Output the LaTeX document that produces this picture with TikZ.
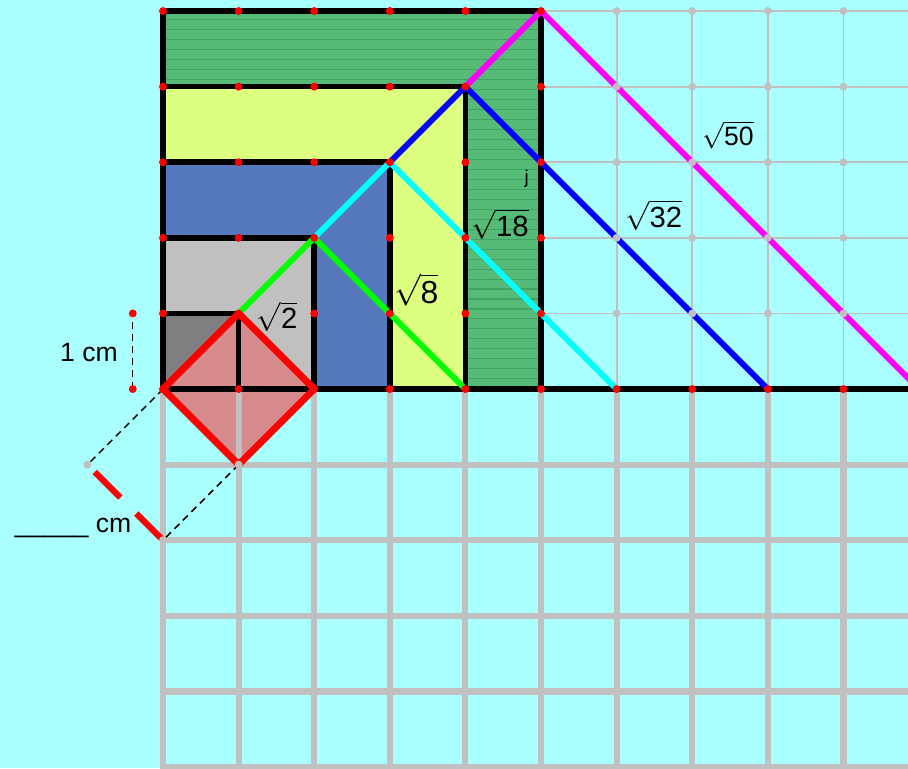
\documentclass[tikz,border=0pt]{standalone}
\usepackage{amsmath}
\usepackage{fontspec}
\setmainfont{Liberation Sans}
\usetikzlibrary{patterns.meta}
\definecolor{sky}{HTML}{AAFFFF}
\definecolor{gridgray}{HTML}{C0C0C0}
\definecolor{sqgreen}{HTML}{55BB77}
\definecolor{hatch}{HTML}{3FA462}
\definecolor{sqyellow}{HTML}{DDFF80}
\definecolor{sqblue}{HTML}{5577BB}
\definecolor{sqgray}{HTML}{C0C0C0}
\definecolor{sqdark}{HTML}{808080}
\definecolor{rosefill}{HTML}{D68C8C}
\definecolor{ptred}{HTML}{FF0000}
\definecolor{diaggreen}{HTML}{00FF00}
\definecolor{diagcyan}{HTML}{00FFFF}
\definecolor{diagblue}{HTML}{0000FF}
\definecolor{diagmagenta}{HTML}{FF00FF}
\tikzset{
  finegrid/.style={draw=gridgray,line width=0.7pt},
  coarsegrid/.style={draw=gridgray,line width=2.3pt},
  edge/.style={draw=black,line width=2.1pt,line cap=rect},
  diag/.style={line width=2.2pt},
  dot/.style={circle,fill=ptred,inner sep=0pt,minimum size=3pt},
  greydot/.style={circle,fill=gridgray,inner sep=0pt,minimum size=3pt},
  measure/.style={draw=black,line width=0.55pt,dash pattern=on 2.6pt off 1.9pt},
  lbl/.style={font=\fontsize{11}{13}\selectfont,inner sep=0pt},
  small/.style={font=\fontsize{10}{12}\selectfont,inner sep=0pt}
}
\begin{document}
\begin{tikzpicture}[line join=round]
  \fill[sky] (-2.156,-5.013) rectangle (9.854,5.146);
  \useasboundingbox (-2.156,-5.013) rectangle (9.854,5.146);
  \clip (-2.156,-5.013) rectangle (9.854,5.146);
  % key points
  \coordinate (o) at (0,0);
  \foreach \k in {1,...,5} \coordinate (p\k) at (\k,\k);
  \foreach \k in {4,6,8,10} \coordinate (q\k) at (\k,0);
  \coordinate (dr) at (2,0);
  \coordinate (db) at (1,-1);
  \coordinate (m1) at (-1,-1);
  \coordinate (m2) at (0,-2);
  \coordinate (u0) at (-0.4,0);
  \coordinate (u1) at (-0.4,1);
  % fine grid right of the squares
  \foreach \x in {6,...,9} \draw[finegrid] (\x,0) -- (\x,5);
  \foreach \y in {1,...,5} \draw[finegrid] (5,\y) -- (10,\y);
  % nested squares
  \fill[sqgreen] (0,0) rectangle (5,5);
  \fill[pattern={Lines[angle=0,distance=0.132cm,line width=0.4pt]},pattern color=hatch]
    (0,4) -- (4,4) -- (4,0) -- (5,0) -- (5,5) -- (0,5) -- cycle;
  \fill[sqyellow] (0,0) rectangle (4,4);
  \fill[sqblue] (0,0) rectangle (3,3);
  \fill[sqgray] (0,0) rectangle (2,2);
  \fill[sqdark] (0,0) rectangle (1,1);
  \fill[rosefill] (o) -- (p1) -- (dr) -- (db) -- cycle;
  % coarse grid below
  \foreach \x in {0,...,9} \draw[coarsegrid] (\x,0) -- (\x,-5.2);
  \foreach \y in {1,...,5} \draw[coarsegrid] (0,-\y) -- (10,-\y);
  % square outlines
  \foreach \k in {1,...,5} \draw[edge] (\k,0) -- (p\k) -- (0,\k);
  \draw[edge] (0,5) -- (o) -- (10,0);
  % diagonals
  \draw[diag,draw=diaggreen] (p1) -- (p2) -- (q4);
  \draw[diag,draw=diagcyan] (p2) -- (p3) -- (q6);
  \draw[diag,draw=diagblue] (p3) -- (p4) -- (q8);
  \draw[diag,draw=diagmagenta] (p4) -- (p5) -- (q10);
  \draw[diag,draw=ptred,line width=2.6pt] (o) -- (p1) -- (dr) -- (db) -- cycle;
  % measuring
  \draw[measure] (o) -- (m1);
  \draw[measure] (db) -- (m2);
  \draw[measure] (u0) -- (u1);
  \draw[draw=ptred,line width=2.3pt,shorten <=0.136cm,dash pattern=on 0.48cm off 0.3cm] (m1) -- (m2);
  % dots
  \foreach \i in {0,...,5} \foreach \j in {0,...,5} \node[dot] (d\i\j) at (\i,\j) {};
  \foreach \i in {6,...,9} \node[dot] (d\i0) at (\i,0) {};
  \foreach \i in {6,...,9} \foreach \j in {1,...,5} \node[greydot] (g\i\j) at (\i,\j) {};
  \node[greydot] (gdb) at (db) {};
  \node[greydot] (gm1) at (m1) {};
  \node[greydot] (gm2) at (m2) {};
  \node[dot] (du0) at (u0) {};
  \node[dot] (du1) at (u1) {};
  % labels
  \node[lbl] (r2) at (1.51,0.96) {$\sqrt{\text{2}}$};
  \node[lbl,font=\fontsize{12}{14}\selectfont] (r8) at (3.35,1.31) {$\sqrt{\text{8}}$};
  \node[lbl] (r18) at (4.46,2.18) {$\sqrt{\text{18}}$};
  \node[lbl] (r32) at (6.49,2.30) {$\sqrt{\text{32}}$};
  \node[lbl,font=\fontsize{10}{12}\selectfont] (r50) at (7.47,3.36) {$\sqrt{\text{50}}$};
  \node[inner sep=0pt,font=\fontsize{7}{8}\selectfont] (jj) at (4.81,2.78) {j};
  \node[small] (onecm) at (-0.98,0.49) {1 cm};
  \node[small] (blank) at (-1.19,-1.84) {\_\_\_\_\_ cm};
\end{tikzpicture}
\end{document}
